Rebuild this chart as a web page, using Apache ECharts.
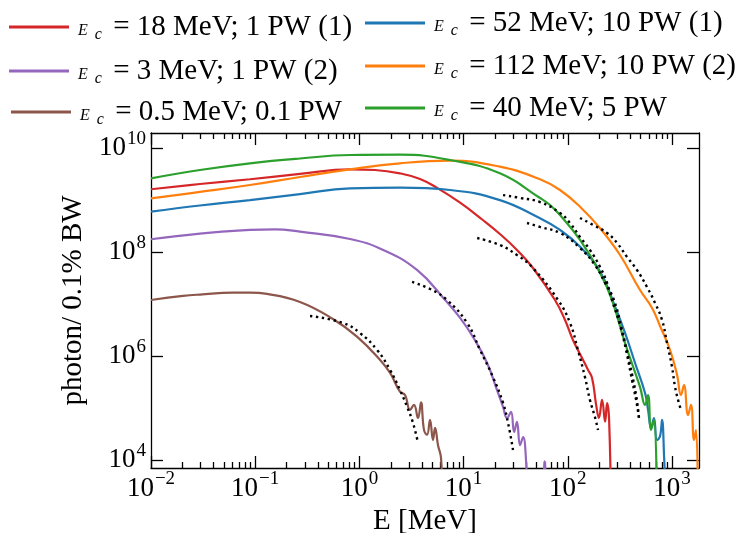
<!DOCTYPE html>
<html><head><meta charset="utf-8">
<script src="https://cdn.jsdelivr.net/npm/echarts@6/dist/echarts.min.js"></script>
<style>html,body{margin:0;padding:0;background:#fff}#c{width:747px;height:533px}</style>
</head><body><div id="c"></div>
<script>
// ---------- axis ranges and ticks ----------
const xMin = 0.01, xMax = 1815;          // E [MeV]
const yMin = 7.1e3, yMax = 1.97e10;      // photon / 0.1% BW
const xTickExps = [-2, -1, 0, 1, 2, 3];
const yTickExps = [4, 6, 8, 10];

// ---------- simulated spectra ----------
const redE = [0.01,0.0295,0.0891,0.269,0.813,1.41,2.45,3.82,5.56,9.25,15.3,22.3,32.5,46.3,75.3,94.0,112,140,156,171,187,199,213,228,238,249,260];
const redN = [1.63e9,2.06e9,2.54e9,3.21e9,3.94e9,3.83e9,3.30e9,2.57e9,1.73e9,9.0e8,4.18e8,2.25e8,1.11e8,4.99e7,1.21e7,4.99e6,2.06e6,8.5e5,5.5e5,3.8e5,1.16e5,6.5e4,1.45e5,5.5e4,1.26e5,6e4,1e3];

const blueE = [0.01,0.0295,0.0891,0.269,0.813,2.45,7.41,22.3,54.1,84.1,131,204,284,354,442,551,589,629,671,718,767,802,838,877];
const blueN = [6.04e8,7.94e8,1.01e9,1.32e9,1.70e9,1.75e9,1.58e9,1.01e9,4.51e8,2.69e8,1.28e8,4.24e7,9.0e6,2.81e6,7.43e5,1.97e5,9.3e4,4.2e4,6.5e4,2.45e4,2.9e4,6e4,1.26e4,1e3];

const purpleE = [0.01,0.0295,0.0891,0.155,0.269,0.813,1.69,3.57,6.64,9.25,12.3,16.8,20.9,23.9,26.1,28.5,30.5,32.5,34.8,37.2,39.7,41.5,50,58.5,59.2,60.5,61.3];
const purpleN = [1.78e8,2.29e8,2.69e8,2.77e8,2.49e8,1.80e8,1.11e8,4.57e7,1.21e7,5.46e6,2.35e6,7.43e5,2.25e5,1.06e5,6.5e4,8.5e4,3.5e4,5.5e4,1.95e4,2.8e4,1e4,1e3,null,1e3,9.5e3,9e3,1e3];

const orangeE = [0.01,0.0295,0.0891,0.269,0.813,2.45,7.41,22.3,54.1,84.1,131,204,317,493,643,767,957,1117,1219,1303,1425,1521,1626,1700,1778];
const orangeN = [1.09e9,1.45e9,1.97e9,2.81e9,3.94e9,5.15e9,5.78e9,4.43e9,2.54e9,1.58e9,7.53e8,2.90e8,8.87e7,1.88e7,8.5e6,3.83e6,1.32e6,4.4e5,1.80e5,2.8e5,7.4e4,1.16e5,2.45e4,3.8e4,1e3];

const brownE = [0.01,0.0203,0.0295,0.0612,0.0891,0.130,0.269,0.558,0.948,1.58,1.97,2.45,2.74,3.06,3.34,3.65,3.90,4.17,4.46,4.76,5.08,5.32,5.68,6.07,6.34];
const brownN = [1.21e7,1.45e7,1.54e7,1.67e7,1.67e7,1.58e7,1.11e7,5.21e6,2.38e6,8.5e5,4.78e5,2.08e5,1.8e5,9.3e4,1.16e5,6.5e4,1.3e5,3.8e4,3.1e4,6e4,2.45e4,4.2e4,1.95e4,1.1e4,1e3];

const greenE = [0.01,0.0295,0.0891,0.269,0.813,2.45,7.41,22.3,54.1,67.5,84.1,131,204,265,354,493,551,589,629,671,718];
const greenN = [2.65e9,3.83e9,5.15e9,6.37e9,7.43e9,7.53e9,5.96e9,3.30e9,1.11e9,8.13e8,5.21e8,1.73e8,4.0e7,1.21e7,1.80e6,2.57e5,1.16e5,1.80e5,3.83e4,5.96e4,1e3];

// ---------- synchrotron fits (dotted) ----------
const brownFitE = [0.336,0.697,1.01,1.48,1.97,2.45,2.87,3.27,3.65];
const brownFitN = [5.96e6,4.37e6,2.81e6,1.32e6,5.45e5,2.25e5,1.06e5,5.21e4,2.15e4];
const purpleFitE = [3.20,4.76,6.93,10.8,14.4,19.1,23.9,26.7,29.8];
const purpleFitN = [2.69e7,1.97e7,1.21e7,4.37e6,1.32e6,4.0e5,1.27e5,5.21e4,1.58e4];
const redFitE = [13.5,22.3,32.5,46.3,80.5,105,125,146,163,182,195];
const redFitN = [1.88e8,1.38e8,8.87e7,4.99e7,1.21e7,4.37e6,1.32e6,4.0e5,1.45e5,6.81e4,3.83e4];
const greenFitE = [23.9,34.8,54.1,84.1,105,131,163,204,238,265,317,362,413,452,482];
const greenFitN = [1.26e9,1.11e9,9.27e8,5.70e8,3.66e8,1.97e8,1.11e8,5.21e7,2.57e7,1.21e7,4.0e6,1.32e6,3.5e5,1.45e5,6.5e4];
const blueFitE = [40.6,54.1,84.1,131,182,228,277,331,395,452,482];
const blueFitN = [3.66e8,3.07e8,2.35e8,1.21e8,5.70e7,2.57e7,1.21e7,3.2e6,6.8e5,1.8e5,6.5e4];
const orangeFitE = [131,175,238,297,370,461,575,687,802,895,1000,1069,1143,1219];
const orangeFitN = [4.57e8,3.35e8,2.35e8,1.51e8,8.13e7,4.57e7,2.15e7,1.06e7,4.99e6,1.80e6,6.22e5,2.57e5,1.45e5,9.27e4];

// ---------- labels ----------
const names = {
  red: 'E_c = 18 MeV; 1 PW (1)',
  blue: 'E_c = 52 MeV; 10 PW (1)',
  purple: 'E_c = 3 MeV; 1 PW (2)',
  orange: 'E_c = 112 MeV; 10 PW (2)',
  brown: 'E_c = 0.5 MeV; 0.1 PW',
  green: 'E_c = 40 MeV; 5 PW'
};
const colors = {red:'#d62728', blue:'#1f77b4', purple:'#9467bd', orange:'#ff7f0e', brown:'#8c564b', green:'#2ca02c'};
const xName = 'E [MeV]';
const yName = 'photon/ 0.1% BW';

const FONT = 'Liberation Serif';
const L = Math.log10;
function pts(E, N) { return E.map((e, i) => [L(e), N[i] === null ? null : L(N[i])]); }

const specs = [
  ['red', redE, redN], ['blue', blueE, blueN], ['purple', purpleE, purpleN],
  ['orange', orangeE, orangeN], ['brown', brownE, brownN], ['green', greenE, greenN]
];
const fits = [
  [brownFitE, brownFitN], [purpleFitE, purpleFitN], [redFitE, redFitN],
  [greenFitE, greenFitN], [blueFitE, blueFitN], [orangeFitE, orangeFitN]
];

const series = specs.map(([k, E, N]) => ({
  type: 'line', name: names[k], data: pts(E, N), showSymbol: false, symbol: 'none',
  smooth: 0.45, connectNulls: false, clip: true, z: 2,
  lineStyle: {color: colors[k], width: 2.2}, itemStyle: {color: colors[k]}
})).concat(fits.map(([E, N], i) => ({
  type: 'line', name: 'fit' + i, data: pts(E, N), showSymbol: false, symbol: 'none',
  smooth: 0.45, clip: true, z: 5,
  lineStyle: {color: '#000', width: 2.4, type: [2.4, 3.6]}
})));

const expLabel = v => {
  const e = Math.round(v);
  return '{b|10}{s|' + (e < 0 ? '\u2212' + (-e) : e) + '}';
};
const labelRich = {
  b: {fontFamily: FONT, fontSize: 27, color: '#000'},
  s: {fontFamily: FONT, fontSize: 19, color: '#000', padding: [0, 0, 18, 1]}
};
const xMinor = [];
for (let d = -2; d <= 3; d++) for (let k = 2; k <= 9; k++) {
  const v = d + L(k);
  if (v < L(xMax)) xMinor.push(v);
}
const lineSty = {color: '#000', width: 1.3};
function xAx(pos, major, withLabel, showLine) {
  return {
    type: 'value', position: pos, min: L(xMin), max: L(xMax),
    splitLine: {show: false},
    axisLine: {show: showLine, onZero: false, lineStyle: lineSty},
    axisTick: {show: true, inside: true, length: major ? 12 : 6, lineStyle: lineSty,
      customValues: major ? xTickExps : xMinor},
    axisLabel: withLabel ? {show: true, customValues: xTickExps, formatter: expLabel,
      margin: 2, rich: labelRich} : {show: false},
    name: withLabel ? xName : '', nameLocation: 'middle', nameGap: 34,
    nameTextStyle: {fontFamily: FONT, fontSize: 29, color: '#000'}
  };
}
function yAx(pos, withLabel) {
  return {
    type: 'value', position: pos, min: L(yMin), max: L(yMax),
    splitLine: {show: false},
    axisLine: {show: true, onZero: false, lineStyle: lineSty},
    axisTick: {show: true, inside: true, length: 12, lineStyle: lineSty, customValues: yTickExps},
    axisLabel: withLabel ? {show: true, customValues: yTickExps, formatter: expLabel,
      margin: 5, rich: labelRich} : {show: false},
    name: withLabel ? yName : '', nameLocation: 'middle', nameGap: 49, nameRotate: 90,
    nameTextStyle: {fontFamily: FONT, fontSize: 29, color: '#000'}
  };
}

const legendRich = {
  e: {fontFamily: FONT, fontSize: 16, fontStyle: 'italic', color: '#000', padding: [8, 0, 0, 4]},
  c: {fontFamily: FONT, fontSize: 16, fontStyle: 'italic', color: '#000', padding: [16, 4, 0, 7]},
  t: {fontFamily: FONT, fontSize: 29, color: '#000'}
};
const legendPos = {
  red: [9, 24], purple: [9, 68], brown: [11, 109],
  blue: [365, 20], orange: [365, 63], green: [365, 105]
};
const legends = Object.keys(legendPos).map(k => ({
  data: [names[k]], left: legendPos[k][0], top: legendPos[k][1] - 17,
  orient: 'horizontal', icon: 'rect', itemWidth: 60, itemHeight: 3,
  padding: 0, itemGap: 0, selectedMode: false,
  formatter: n => '{e|E}{c|c}{t| ' + n.replace('E_c ', '') + '}',
  textStyle: {rich: legendRich, fontFamily: FONT, fontSize: 29, color: '#000', height: 40, lineHeight: 40}
}));

const chart = echarts.init(document.getElementById('c'), null, {renderer: 'canvas'});
chart.setOption({
  animation: false,
  backgroundColor: '#fff',
  textStyle: {fontFamily: FONT, color: '#000'},
  grid: {left: 151, right: 48, top: 133, bottom: 65, containLabel: false, outerBoundsMode: 'none'},
  legend: legends,
  xAxis: [xAx('bottom', true, true, true), xAx('bottom', false, false, false),
          xAx('top', true, false, true), xAx('top', false, false, false)],
  yAxis: [yAx('left', true), yAx('right', false)],
  series: series
});
</script></body></html>
